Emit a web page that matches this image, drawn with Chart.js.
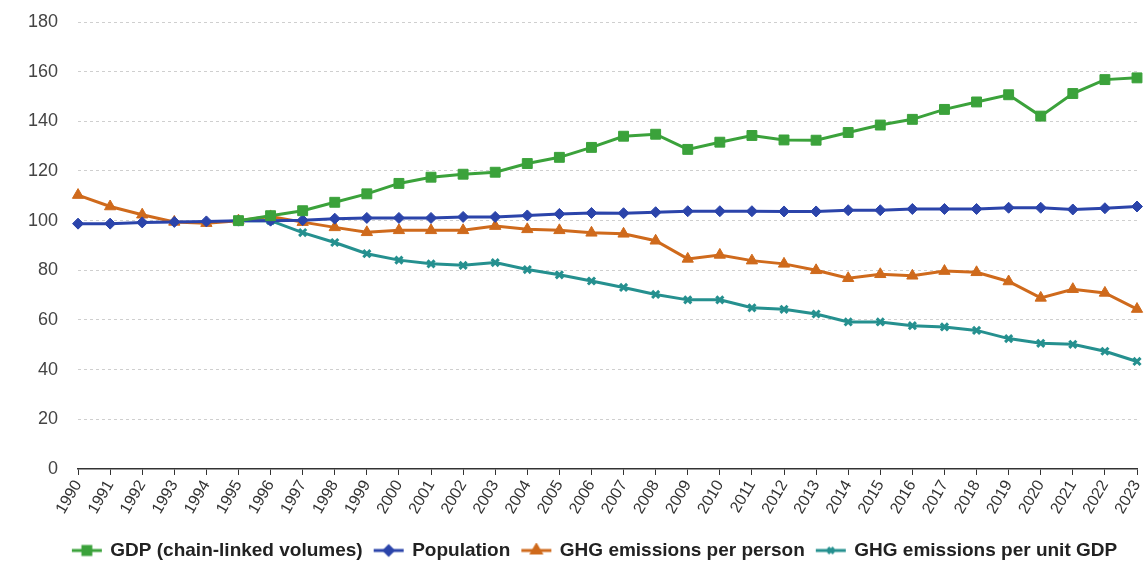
<!DOCTYPE html>
<html>
<head>
<meta charset="utf-8">
<script src="https://cdn.jsdelivr.net/npm/chart.js@4/dist/chart.umd.min.js"></script>
<style>
  html, body { margin: 0; padding: 0; background: #fff; }
  #wrap { width: 1145px; height: 570px; position: relative; }
</style>
</head>
<body>
<div id="wrap"><canvas id="chart"></canvas></div>
<script>
// index, 1995 = 100
const years = ['1990', '1991', '1992', '1993', '1994', '1995', '1996', '1997', '1998', '1999',
    '2000', '2001', '2002', '2003', '2004', '2005', '2006', '2007', '2008', '2009',
    '2010', '2011', '2012', '2013', '2014', '2015', '2016', '2017', '2018', '2019',
    '2020', '2021', '2022', '2023'];

const gdp = [null, null, null, null, null, 100, 102, 104, 107.4, 110.8,
    115, 117.5, 118.7, 119.5, 123, 125.5, 129.5, 134, 134.8, 128.7,
    131.6, 134.3, 132.5, 132.4, 135.5, 138.5, 140.8, 144.8, 147.8, 150.7,
    142.1, 151.2, 156.8, 157.5];

const population = [98.8, 98.8, 99.3, 99.5, 99.7, 100, 100, 100.2, 100.8, 101.1,
    101.1, 101.1, 101.5, 101.5, 102.1, 102.7, 103.1, 103, 103.4, 103.8,
    103.8, 103.8, 103.7, 103.7, 104.2, 104.2, 104.7, 104.7, 104.7, 105.2,
    105.2, 104.5, 105, 105.7];

const ghgPerPerson = [110.3, 105.7, 102.4, 99.5, 99, 100, 101.7, 99.4, 97.3, 95.3,
    96.1, 96.1, 96.1, 97.8, 96.5, 96.1, 95.1, 94.7, 91.9, 84.6,
    86.2, 83.9, 82.6, 80, 76.8, 78.4, 77.8, 79.7, 79.2, 75.5,
    68.9, 72.4, 70.9, 64.4];

const ghgPerGdp = [null, null, null, null, null, 100, 100, 95.2, 91.2, 86.7,
    84.1, 82.6, 82, 83.1, 80.3, 78.2, 75.7, 73.1, 70.3, 68.1,
    68.1, 64.9, 64.3, 62.4, 59.2, 59.2, 57.7, 57.2, 55.8, 52.5,
    50.6, 50.2, 47.4, 43.3];

const yTicks = [0, 20, 40, 60, 80, 100, 120, 140, 160, 180];

const GREEN = '#3ba23b';
const BLUE = '#2b44aa';
const ORANGE = '#cf6a1c';
const TEAL = '#25908f';
const FONT = 'Liberation Sans, Arial, sans-serif';

// small line + marker icon for the legend
function legendIcon(color, style, radius) {
    const c = document.createElement('canvas');
    c.width = 32;
    c.height = 16;
    const ctx = c.getContext('2d');
    ctx.strokeStyle = color;
    ctx.fillStyle = color;
    ctx.lineWidth = 3;
    ctx.beginPath();
    ctx.moveTo(1, 8);
    ctx.lineTo(31, 8);
    ctx.stroke();
    Chart.helpers.drawPoint(ctx, { pointStyle: style, radius: radius * 0.8, borderWidth: style === 'crossRot' ? 3 : 1 }, 16, 8);
    return c;
}

function makeSet(label, data, color, style, radius) {
    return {
        label: label,
        data: data,
        borderColor: color,
        backgroundColor: color,
        borderWidth: 3,
        pointStyle: style,
        pointRadius: radius,
        pointBorderWidth: style === 'crossRot' ? 3 : 1,
        pointBackgroundColor: color,
        pointBorderColor: color,
        tension: 0,
        fill: false,
        spanGaps: false,
        legendIcon: legendIcon(color, style, radius)
    };
}

// nudge the legend a bit to the right, like the original
const legendShift = {
    id: 'legendShift',
    afterLayout(chart) {
        chart.legend.left += 22;
        chart.legend.right += 22;
    }
};

new Chart(document.getElementById('chart'), {
    type: 'line',
    data: {
        labels: years,
        datasets: [
            makeSet('GDP (chain-linked volumes)', gdp, GREEN, 'rect', 7),
            makeSet('Population', population, BLUE, 'rectRot', 5.5),
            makeSet('GHG emissions per person', ghgPerPerson, ORANGE, 'triangle', 6.5),
            makeSet('GHG emissions per unit GDP', ghgPerGdp, TEAL, 'crossRot', 5)
        ]
    },
    plugins: [legendShift],
    options: {
        responsive: true,
        maintainAspectRatio: false,
        animation: false,
        layout: { padding: { top: 22, right: 7, left: 8, bottom: 0 } },
        plugins: {
            tooltip: { enabled: false },
            legend: {
                position: 'bottom',
                title: { display: true, text: ' ', padding: 0, font: { size: 8 } },
                labels: {
                    usePointStyle: true,
                    pointStyleWidth: 28,
                    boxHeight: 16,
                    padding: 12,
                    color: '#222',
                    font: { family: FONT, size: 19, weight: 'bold' },
                    generateLabels: chart => chart.data.datasets.map((ds, i) => ({
                        text: ds.label,
                        pointStyle: ds.legendIcon,
                        fillStyle: ds.borderColor,
                        strokeStyle: ds.borderColor,
                        fontColor: '#222',
                        lineWidth: 0,
                        hidden: false,
                        datasetIndex: i
                    }))
                }
            }
        },
        scales: {
            x: {
                offset: false,
                afterFit: axis => { axis.paddingRight = 0; },
                grid: {
                    display: true,
                    drawOnChartArea: false,
                    drawTicks: true,
                    tickLength: 6,
                    color: '#333'
                },
                border: { display: true, color: '#333', width: 1.5 },
                ticks: {
                    autoSkip: false,
                    minRotation: 60,
                    maxRotation: 60,
                    padding: 2,
                    color: '#333',
                    font: { family: FONT, size: 16 }
                }
            },
            y: {
                min: 0,
                max: 180,
                afterBuildTicks: axis => { axis.ticks = yTicks.map(v => ({ value: v })); },
                afterFit: axis => { axis.paddingTop = 0; axis.paddingBottom = 0; },
                grid: {
                    color: ctx => ctx.tick.value === 0 ? 'rgba(0,0,0,0)' : '#cfcfcf',
                    drawTicks: false,
                    lineWidth: 1
                },
                border: { display: false, dash: [3, 3] },
                ticks: {
                    padding: 20,
                    color: '#444',
                    font: { family: FONT, size: 18 }
                }
            }
        }
    }
});
</script>
</body>
</html>
